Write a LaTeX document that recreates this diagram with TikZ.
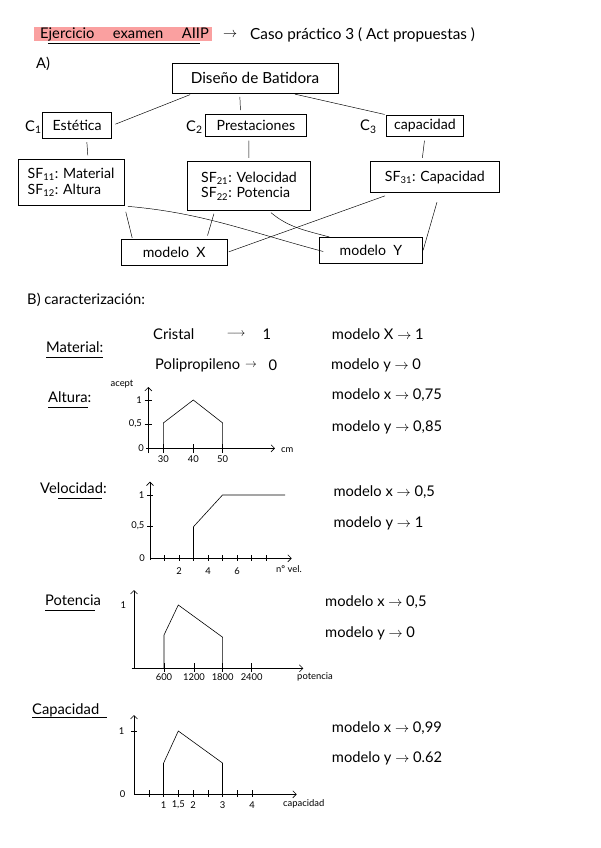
\documentclass[tikz,border=0pt]{standalone}
\usepackage{fontspec}
\setmainfont{Lato}
\usetikzlibrary{arrows.meta}
\definecolor{marker}{RGB}{250,160,160}
\tikzset{
  sized/.style 2 args={minimum width=#1*0.85pt, minimum height=#2*0.85pt},
  box/.style={draw, line width=0.6pt, inner sep=2pt, align=left, font=\fontsize{12}{13.5}\selectfont},
  hand/.style={inner sep=0pt, anchor=west, font=\fontsize{12.5}{14}\selectfont},
  small/.style={inner sep=0pt, font=\fontsize{8}{9}\selectfont},
  link/.style={line width=0.4pt, shorten <=3pt, shorten >=3pt},
  axis/.style={line width=0.5pt, -{Straight Barb[length=3pt]}},
  curve/.style={line width=0.5pt},
}
\begin{document}
\begin{tikzpicture}[x=0.85pt, y=-0.85pt]
\path[use as bounding box, fill=white] (0,0) rectangle (600,848);

% title
\fill[marker] (34,27) rectangle (212,41);
\node[hand] (title) at (40,34) {Ejercicio \quad examen \quad AIIP};
\draw[line width=0.5pt] (48,43.5) -- (200,43.5);
\node[hand] (titlearrow) at (223,35) {$\rightarrow$};
\node[hand, font=\fontsize{13}{14}\selectfont] (subtitle) at (250,35) {Caso práctico 3 ( Act propuestas )};

% A) tree
\node[hand] (partA) at (36,64) {A)};
\node[box, sized={166}{30}, align=center, font=\fontsize{13}{14}\selectfont] (root) at (255,78) {Diseño de Batidora};
\node[box, sized={69}{25.6}, align=center] (est) at (77.2,125.5) {Estética};
\node[box, sized={100.3}{22.7}, align=center] (pres) at (255.9,125.3) {Prestaciones};
\node[box, sized={77.7}{21.7}, align=center] (cap) at (424.9,125.9) {capacidad};
\node[hand] (c1) at (25,127) {C\textsubscript{1}};
\node[hand] (c2) at (186,127) {C\textsubscript{2}};
\node[hand] (c3) at (360,127) {C\textsubscript{3}};
\node[box, sized={106}{46.4}] (sf1) at (71,182.5) {SF\textsubscript{11}: Material\\SF\textsubscript{12}: Altura};
\node[box, sized={123.4}{48.3}] (sf2) at (249,185.9) {SF\textsubscript{21}: Velocidad\\SF\textsubscript{22}: Potencia};
\node[box, sized={128.3}{31}] (sf3) at (434.9,177.2) {SF\textsubscript{31}: Capacidad};
\node[box, sized={106.3}{25.7}, align=center] (mx) at (174.2,252.2) {modelo \ X};
\node[box, sized={103.7}{26}, align=center] (my) at (370.9,250.3) {modelo \ Y};

\draw[link] (root.194) -- (est.east);
\draw[link] ([xshift=-13pt]root.south) -- ([xshift=-13pt]pres.north);
\draw[link, shorten >=1pt] ([xshift=31pt]root.south) -- (cap.north west);
\draw[link] ([xshift=8pt]est.south) -- ([xshift=14.5pt]sf1.north);
\draw[link] ([xshift=-6pt]pres.south) -- (sf2.north);
\draw[link] (cap.south) -- ([xshift=-11pt]sf3.north);
\draw[link, shorten <=5pt, shorten >=1pt] (sf1.south east) -- ([xshift=10pt]mx.north west);
\draw[link, shorten <=3pt, shorten >=-4pt] (sf1.south east) to[out=-5, in=165] (my.west);
\draw[link] ([xshift=-29pt]sf2.south) -- ([xshift=-18pt]mx.north east);
\draw[link, shorten >=0pt] ([xshift=16.4pt]sf2.south) to[out=-40, in=165] ([xshift=9pt]my.north west);
\draw[link, shorten <=7pt, shorten >=1pt] ([xshift=19pt]sf3.south west) -- (mx.east);
\draw[link, shorten <=8pt, shorten >=0pt] ([xshift=4pt]sf3.south) -- (my.east);

% B) caracterizacion
\node[hand] (partB) at (27,300) {B) caracterización:};

% material
\node[hand] (material) at (46,347) {Material:};
\draw[line width=0.5pt] (46,357) -- (103,357);
\node[hand] (cristal) at (153,334) {Cristal};
\node[inner sep=0pt] (cristalto) at (236,334) {$\longrightarrow$};
\node[hand, anchor=center] (cristalval) at (267,334) {1};
\node[hand] (poli) at (155,365) {Polipropileno};
\node[inner sep=0pt] (polito) at (251,365) {$\rightarrow$};
\node[hand, anchor=center] (polival) at (273,365) {0};
\node[hand] (matx) at (331.7,334) {modelo X $\rightarrow$ 1};
\node[hand] (maty) at (331,365) {modelo y $\rightarrow$ 0};

% altura
\node[hand] (altura) at (48,397) {Altura:};
\draw[line width=0.5pt] (48,407) -- (88,407);
\node[small] (altlab) at (122,384) {acept};
\draw[axis] (148.3,453) -- (148.3,387);
\draw[axis] (146,448.3) -- (275,448.3);
\node[small, anchor=west] (altunit) at (281,450) {cm};
\foreach \yv/\lab in {400/1, 424/{0,5}}
  \draw (144.5,\yv) -- (152,\yv) node[small, anchor=east, pos=0, xshift=-2pt] {\lab};
\node[small, anchor=east] (alt0) at (144,448.3) {0};
\foreach \xv/\lab in {163.3/30, 193.3/40, 222.7/50}
  \draw (\xv,444) -- (\xv,453) node[small, anchor=north, pos=1, yshift=-2pt] {\lab};
\draw[curve] (163.3,448.3) -- (163.3,423) -- (193.3,400) -- (222.7,423) -- (222.7,448.3);
\node[hand] (altx) at (331.7,395) {modelo x $\rightarrow$ 0,75};
\node[hand] (alty) at (331.7,427) {modelo y $\rightarrow$ 0,85};

% velocidad
\node[hand] (velocidad) at (40,488) {Velocidad:};
\draw[line width=0.5pt] (58,498) -- (102,498);
\draw[axis] (150,560) -- (150,481.7);
\draw[axis] (150,558.3) -- (291.7,558.3);
\foreach \yv/\lab in {495/1, 526/{0,5}}
  \draw (147,\yv) -- (153,\yv) node[small, anchor=east, pos=0, xshift=-2pt] {\lab};
\node[small, anchor=east] (vel0) at (145,558.3) {0};
\foreach \k in {1,...,8}
  \draw (150+14.5*\k,555) -- (150+14.5*\k,561);
\foreach \k in {2,4,6}
  \node[small] at (150+14.5*\k,571) {\k};
\node[small, anchor=west] (velunit) at (276,569) {nº vel.};
\draw[line width=1.2pt] (150,558.3) -- (193.5,558.3);
\draw[curve] (193.5,558.3) -- (193.5,526.7) -- (222.5,495) -- (285,495);
\node[hand] (velx) at (333.3,491.7) {modelo x $\rightarrow$ 0,5};
\node[hand] (vely) at (333.3,523) {modelo y $\rightarrow$ 1};

% potencia
\node[hand] (potencia) at (45,600) {Potencia};
\draw[line width=0.5pt] (45,610) -- (95,610);
\draw[axis] (134,668.3) -- (134,590);
\draw[axis] (131.7,668.3) -- (303.3,668.3);
\node[small] (pot1) at (123.3,605) {1};
\foreach \xv/\lab in {164/600, 194/1200, 222.7/1800, 251.7/2400}
  \draw (\xv,663) -- (\xv,672) node[small, anchor=north, pos=1, yshift=-1pt] {\lab};
\node[small, anchor=west] (potunit) at (297,677) {potencia};
\draw[curve] (164,668.3) -- (164,635) -- (178.3,605) -- (222.7,637.3) -- (222.7,668.3);
\node[hand] (potx) at (325,602) {modelo x $\rightarrow$ 0,5};
\node[hand] (poty) at (325,633) {modelo y $\rightarrow$ 0};

% capacidad
\node[hand] (capacidad) at (32,710) {Capacidad};
\draw[line width=0.5pt] (32,717) -- (107,717);
\draw[axis] (134,794.3) -- (134,715);
\draw[axis] (134,794.3) -- (296.7,794.3);
\draw (131,731) -- (137,731);
\node[small] (cap1) at (121.7,731) {1};
\node[small] (cap0) at (122.7,794) {0};
\foreach \k in {1,...,8}
  \draw (134+14.75*\k,790) -- (134+14.75*\k,797);
\foreach \xv/\lab in {163.5/1, 178.3/{1,5}, 193/2, 222.5/3, 252/4}
  \node[small] at (\xv,805) {\lab};
\node[small, anchor=west] (capunit) at (283,804) {capacidad};
\draw[curve] (163.5,794.3) -- (163.5,763.3) -- (178.3,731) -- (222.5,763) -- (222.5,794.3);
\node[hand] (capx) at (331.7,728) {modelo x $\rightarrow$ 0,99};
\node[hand] (capy) at (331.7,758) {modelo y $\rightarrow$ 0.62};
\end{tikzpicture}
\end{document}
